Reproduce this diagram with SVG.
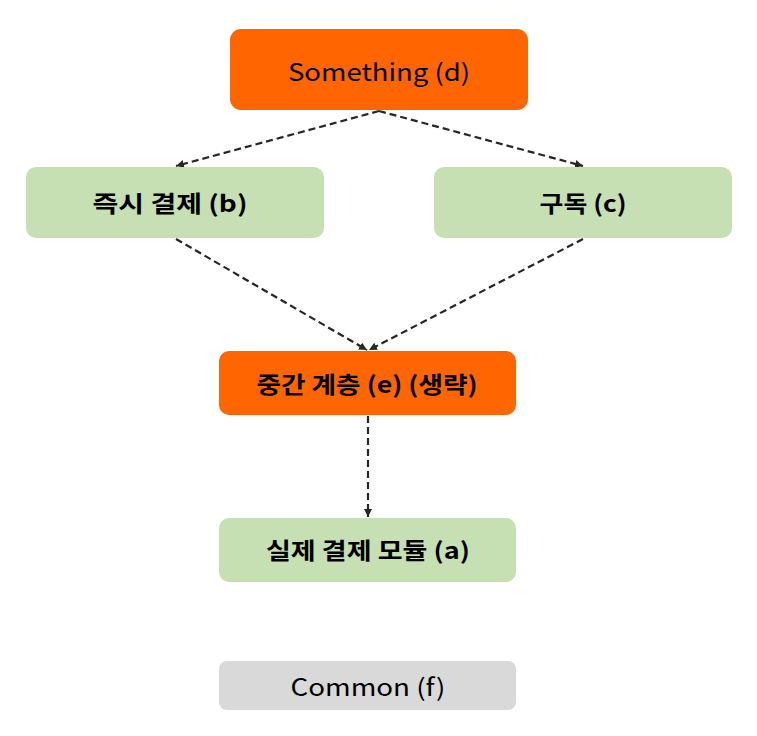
<svg xmlns="http://www.w3.org/2000/svg" width="757" height="736" viewBox="0 0 757 736">
<style>
.orange{fill:#FF6600}
.green{fill:#C6E0B4}
.gray{fill:#D9D9D9}
.t{font-family:"Noto Sans CJK KR","Noto Sans",sans-serif;font-size:23px;fill:#000;text-anchor:middle;dominant-baseline:central}
.k{font-weight:700}
.l{font-size:24px;font-weight:400}
.edge{stroke:#262626;stroke-width:2.2;stroke-dasharray:7,4;fill:none}
</style>
<defs>
<marker id="arr" viewBox="0 0 10 10" refX="10" refY="5" markerWidth="8" markerHeight="8" orient="auto" markerUnits="userSpaceOnUse">
<path d="M0,0 L10,5 L0,10 z" fill="#262626"/>
</marker>
</defs>
<rect width="757" height="736" fill="#fff"/>
<g id="edges">
<line class="edge" x1="379" y1="111" x2="176" y2="166" marker-end="url(#arr)"/>
<line class="edge" x1="379" y1="111" x2="583" y2="166" marker-end="url(#arr)"/>
<line class="edge" x1="176" y1="239" x2="367" y2="350" marker-end="url(#arr)"/>
<line class="edge" x1="583" y1="239" x2="369" y2="350" marker-end="url(#arr)"/>
<line class="edge" x1="368" y1="416" x2="368" y2="517" marker-end="url(#arr)"/>
</g>
<g id="node-d">
<rect class="orange" x="230" y="29" width="298" height="81" rx="11"/>
<text class="t l" x="379" y="70" textLength="182" lengthAdjust="spacingAndGlyphs">Something (d)</text>
</g>
<g id="node-b">
<rect class="green" x="26" y="167" width="298" height="71" rx="10"/>
<text class="t k" x="170" y="202" textLength="155" lengthAdjust="spacingAndGlyphs">즉시 결제 (b)</text>
</g>
<g id="node-c">
<rect class="green" x="434" y="167" width="298" height="71" rx="10"/>
<text class="t k" x="583" y="202" textLength="87" lengthAdjust="spacingAndGlyphs">구독 (c)</text>
</g>
<g id="node-e">
<rect class="orange" x="219" y="351" width="297" height="64" rx="10"/>
<text class="t k" x="367" y="383" textLength="221" lengthAdjust="spacingAndGlyphs">중간 계층 (e) (생략)</text>
</g>
<g id="node-a">
<rect class="green" x="219" y="518" width="297" height="64" rx="10"/>
<text class="t k" x="368" y="549" textLength="204" lengthAdjust="spacingAndGlyphs">실제 결제 모듈 (a)</text>
</g>
<g id="node-f">
<rect class="gray" x="219" y="661" width="297" height="49" rx="8"/>
<text class="t l" x="368" y="685" textLength="155" lengthAdjust="spacingAndGlyphs">Common (f)</text>
</g>
</svg>
